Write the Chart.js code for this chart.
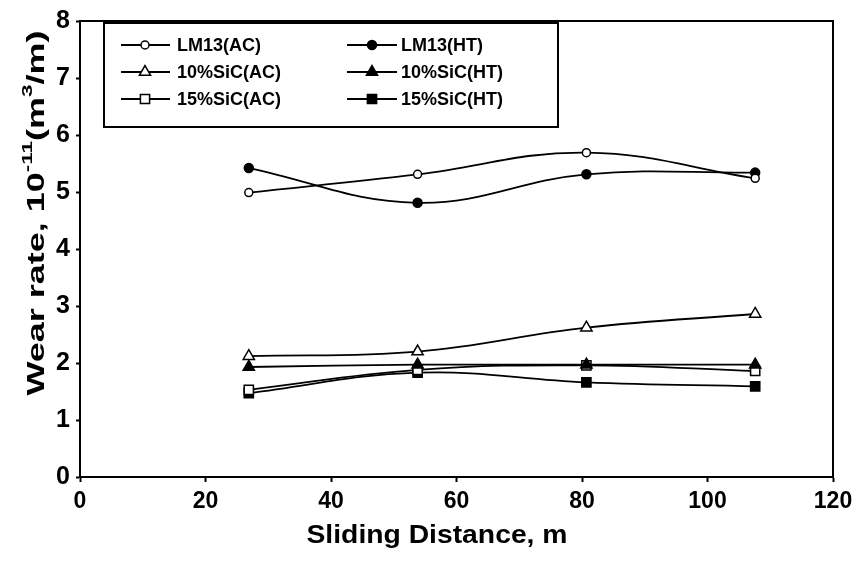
<!DOCTYPE html>
<html>
<head>
<meta charset="utf-8">
<script src="https://cdn.jsdelivr.net/npm/chart.js@4/dist/chart.umd.min.js"></script>
<style>
  body { margin: 0; background: #fff; }
  #wrap { width: 861px; height: 565px; position: relative; }
</style>
</head>
<body>
<div id="wrap"><canvas id="wearChart"></canvas></div>
<script>
// sliding distance (m) and wear rate (10^-11 m3/m)
const distances = [26.9, 53.8, 80.7, 107.6];
const lm13AC = [4.99, 5.31, 5.69, 5.24];
const lm13HT = [5.42, 4.81, 5.31, 5.34];
const sic10AC = [2.12, 2.20, 2.62, 2.86];
const sic10HT = [1.93, 1.97, 1.97, 1.97];
const sic15AC = [1.53, 1.88, 1.96, 1.86];
const sic15HT = [1.47, 1.83, 1.66, 1.59];
const seriesNames = ["LM13(AC)", "LM13(HT)", "10%SiC(AC)", "10%SiC(HT)", "15%SiC(AC)", "15%SiC(HT)"];
const xTicks = [0, 20, 40, 60, 80, 100, 120];
const yTicks = [0, 1, 2, 3, 4, 5, 6, 7, 8];

function pts(vals) {
  return vals.map((v, i) => ({ x: distances[i], y: v }));
}

function series(name, vals, style, radius, filled) {
  return {
    label: name,
    data: pts(vals),
    borderColor: "#000",
    borderWidth: 1.8,
    tension: 0.4,
    pointStyle: style,
    pointRadius: radius,
    pointBorderWidth: 1.5,
    pointBorderColor: "#000",
    pointBackgroundColor: filled ? "#000" : "#fff"
  };
}

// frame, legend box and axis titles
const extras = {
  id: "extras",
  afterDraw(chart) {
    const ctx = chart.ctx;
    const a = chart.chartArea;
    ctx.save();
    ctx.strokeStyle = "#000";
    ctx.lineWidth = 2;
    ctx.beginPath();
    ctx.moveTo(a.left, a.top);
    ctx.lineTo(a.right, a.top);
    ctx.lineTo(a.right, a.bottom);
    ctx.stroke();

    // legend
    ctx.lineWidth = 2;
    ctx.strokeRect(104, 23, 454, 104);
    const lineX0 = [121, 347], lineX1 = [170, 397], markX = [145, 372], textX = [177, 401];
    const rowY = [45, 72, 99];
    ctx.font = "bold 18px 'Liberation Sans', Arial, sans-serif";
    ctx.textBaseline = "middle";
    ctx.textAlign = "left";
    chart.data.datasets.forEach((ds, i) => {
      const c = i % 2, y = rowY[Math.floor(i / 2)];
      ctx.strokeStyle = "#000";
      ctx.lineWidth = 1.8;
      ctx.beginPath();
      ctx.moveTo(lineX0[c], y);
      ctx.lineTo(lineX1[c], y);
      ctx.stroke();
      ctx.fillStyle = ds.pointBackgroundColor;
      ctx.lineWidth = ds.pointBorderWidth;
      Chart.helpers.drawPoint(ctx, { pointStyle: ds.pointStyle, radius: ds.pointRadius, rotation: 0, borderWidth: ds.pointBorderWidth }, markX[c], y);
      ctx.fillStyle = "#000";
      ctx.fillText(ds.label, textX[c], y + 1);
    });

    // x title
    ctx.fillStyle = "#000";
    ctx.font = "bold 25px 'Liberation Sans', Arial, sans-serif";
    const xt = "Sliding Distance, m";
    const xw = ctx.measureText(xt).width;
    ctx.save();
    ctx.translate(437, 536);
    ctx.scale(261 / xw, 1);
    ctx.textAlign = "center";
    ctx.fillText(xt, 0, 0);
    ctx.restore();

    // y title with superscripts
    const big = "bold 24px 'Liberation Sans', Arial, sans-serif";
    const sup = "bold 15px 'Liberation Sans', Arial, sans-serif";
    const parts = [["Wear rate, 10", big, 0], ["-11", sup, -9], ["(m", big, 0], ["3", sup, -9], ["/m)", big, 0]];
    let total = 0;
    parts.forEach(p => { ctx.font = p[1]; total += ctx.measureText(p[0]).width; });
    ctx.save();
    ctx.translate(37, 213);
    ctx.rotate(-Math.PI / 2);
    ctx.scale(365 / total, 1);
    ctx.textAlign = "left";
    let x = -total / 2;
    parts.forEach(p => {
      ctx.font = p[1];
      ctx.fillText(p[0], x, p[2]);
      x += ctx.measureText(p[0]).width;
    });
    ctx.restore();
    ctx.restore();
  }
};

new Chart("wearChart", {
  type: "line",
  data: {
    datasets: [
      series(seriesNames[0], lm13AC, "circle", 4, false),
      series(seriesNames[1], lm13HT, "circle", 4.5, true),
      series(seriesNames[2], sic10AC, "triangle", 6.5, false),
      series(seriesNames[3], sic10HT, "triangle", 6.5, true),
      series(seriesNames[4], sic15AC, "rect", 6.5, false),
      series(seriesNames[5], sic15HT, "rect", 6.5, true)
    ]
  },
  options: {
    responsive: true,
    maintainAspectRatio: false,
    animation: false,
    layout: { padding: { top: 13, right: 28, left: 0, bottom: 0 } },
    plugins: {
      legend: { display: false },
      tooltip: { enabled: false }
    },
    scales: {
      x: {
        type: "linear",
        min: 0,
        max: 120,
        afterBuildTicks: s => { s.ticks = xTicks.map(v => ({ value: v })); },
        afterFit: s => { s.height = 88; },
        border: { display: true, color: "#000", width: 2 },
        grid: { drawOnChartArea: false, drawTicks: true, tickLength: 5, tickColor: "#000", tickWidth: 2 },
        ticks: {
          color: "#000",
          padding: 6,
          maxRotation: 0,
          font: { family: "'Liberation Sans', Arial", size: 23, weight: "bold" }
        }
      },
      y: {
        min: 0,
        max: 8,
        afterBuildTicks: s => { s.ticks = yTicks.map(v => ({ value: v })); },
        afterFit: s => { s.width = 80; },
        border: { display: true, color: "#000", width: 2 },
        grid: { drawOnChartArea: false, drawTicks: true, tickLength: 4, tickColor: "#000", tickWidth: 2 },
        ticks: {
          color: "#000",
          padding: 6,
          font: { family: "'Liberation Sans', Arial", size: 25, weight: "bold" }
        }
      }
    }
  },
  plugins: [extras]
});
</script>
</body>
</html>
